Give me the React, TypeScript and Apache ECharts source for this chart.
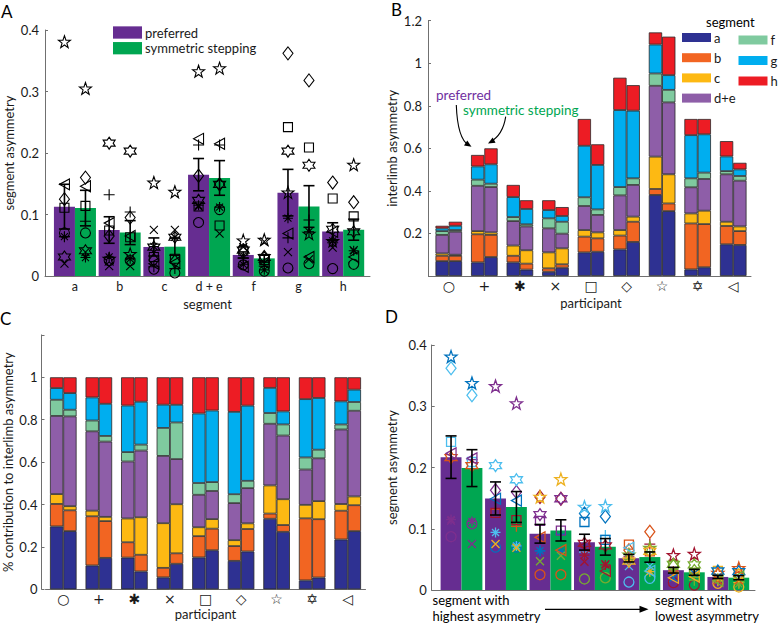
import React, { useEffect, useRef } from 'react';
import * as echarts from 'echarts';

// ---------------- data ----------------
const participants = ['○', '+', '✱', '×', '□', '◇', '☆', '✡', '◁'];
const segments = ['a', 'b', 'c', 'd+e', 'f', 'g', 'h'];
const segmentTickLabels = ['a', 'b', 'c', 'd + e', 'f', 'g', 'h'];
const conditions = ['preferred', 'symmetric stepping'];

// segment asymmetry per participant (rows, same order as participants)
// columns: a, b, c, d+e, f, g, h
const preferred = [
  [0.070, 0.025, 0.011, 0.087, 0.018, 0.013, 0.012],
  [0.064, 0.132, 0.015, 0.213, 0.029, 0.062, 0.054],
  [0.064, 0.031, 0.048, 0.115, 0.019, 0.094, 0.057],
  [0.020, 0.016, 0.075, 0.113, 0.047, 0.039, 0.046],
  [0.111, 0.074, 0.031, 0.113, 0.041, 0.242, 0.126],
  [0.125, 0.065, 0.026, 0.163, 0.039, 0.362, 0.152],
  [0.381, 0.028, 0.152, 0.333, 0.058, 0.136, 0.057],
  [0.031, 0.216, 0.047, 0.123, 0.042, 0.203, 0.076],
  [0.149, 0.086, 0.020, 0.223, 0.015, 0.069, 0.072],
];
const symmetric = [
  [0.070, 0.025, 0.005, 0.108, 0.008, 0.020, 0.019],
  [0.089, 0.104, 0.012, 0.213, 0.016, 0.091, 0.075],
  [0.030, 0.028, 0.063, 0.112, 0.010, 0.072, 0.041],
  [0.039, 0.016, 0.075, 0.069, 0.056, 0.027, 0.042],
  [0.114, 0.063, 0.028, 0.082, 0.026, 0.209, 0.097],
  [0.160, 0.095, 0.024, 0.149, 0.031, 0.318, 0.120],
  [0.305, 0.036, 0.137, 0.338, 0.059, 0.069, 0.181],
  [0.041, 0.203, 0.063, 0.149, 0.030, 0.180, 0.072],
  [0.146, 0.065, 0.022, 0.215, 0.022, 0.031, 0.031],
];

// ---------------- styles ----------------
const FONT = 'Lato, "Open Sans", sans-serif';
const conditionColors = ['#662d91', '#00a651'];
const segmentColors = ['#2e3192', '#f26522', '#fdb913', '#8e5ea8', '#7fca9f', '#00aeef', '#ed1c24'];
const segmentColorsD = ['#0072bd', '#d95319', '#edb120', '#7e2f8e', '#77ac30', '#4dbeee', '#a2142f'];
const AXIS = { color: '#707070', width: 1 };
const HALF = 0.47;

const starPath = (n: number, inner: number) => {
  let d = '';
  for (let i = 0; i < 2 * n; i++) {
    const r = i % 2 === 0 ? 1 : inner;
    const a = -Math.PI / 2 + (i * Math.PI) / n;
    d += (i === 0 ? 'M' : 'L') + (r * Math.cos(a)).toFixed(3) + ',' + (r * Math.sin(a)).toFixed(3);
  }
  return 'path://' + d + 'Z';
};
const markerSymbols = [
  'circle',
  'path://M0,-1L0,1M-1,0L1,0',
  'path://M0,-1L0,1M-1,0L1,0M-0.7,-0.7L0.7,0.7M-0.7,0.7L0.7,-0.7',
  'path://M-1,-1L1,1M-1,1L1,-1',
  'rect',
  'path://M0,-1.3L1,0L0,1.3L-1,0Z',
  starPath(5, 0.4),
  starPath(6, 0.58),
  'path://M-1,0L1,-1.1L1,1.1Z',
];
const markerSizes: any[] = [10, 11, 10, 8, 9, [10, 13], 12, 12, [10, 11]];

// ---------------- helpers ----------------
const mean = (v: number[]) => v.reduce((s, x) => s + x, 0) / v.length;
const sem = (v: number[]) => {
  const m = mean(v);
  const sd = Math.sqrt(v.reduce((s, x) => s + (x - m) ** 2, 0) / (v.length - 1));
  return sd / Math.sqrt(v.length);
};
const matrices = [preferred, symmetric];

function barSeries(name: string, color: string, axis: number, points: number[][], side: number) {
  return {
    type: 'custom', name, xAxisIndex: axis, yAxisIndex: axis, z: 1, silent: true,
    itemStyle: { color },
    data: points,
    encode: { x: 0, y: 1 },
    renderItem: (_p: any, api: any) => {
      const x = api.value(0) as number;
      const y = api.value(1) as number;
      const a = api.coord([side < 0 ? x - HALF : x, 0]);
      const b = api.coord([side < 0 ? x : x + HALF, y]);
      return { type: 'rect', shape: { x: a[0], y: b[1], width: b[0] - a[0], height: a[1] - b[1] }, style: { fill: color } };
    },
  };
}
function errSeries(axis: number, points: number[][]) {
  return {
    type: 'custom', xAxisIndex: axis, yAxisIndex: axis, z: 5, silent: true,
    data: points,
    encode: { x: 0, y: 1 },
    renderItem: (_p: any, api: any) => {
      const x = api.value(0) as number, m = api.value(1) as number, e = api.value(2) as number;
      const t = api.coord([x, m + e]);
      const b = api.coord([x, m - e]);
      const cw = 5.5;
      const st = { stroke: '#000', lineWidth: 1.6 };
      return {
        type: 'group', children: [
          { type: 'line', shape: { x1: t[0], y1: t[1], x2: b[0], y2: b[1] }, style: st },
          { type: 'line', shape: { x1: t[0] - cw, y1: t[1], x2: t[0] + cw, y2: t[1] }, style: st },
          { type: 'line', shape: { x1: b[0] - cw, y1: b[1], x2: b[0] + cw, y2: b[1] }, style: st },
        ],
      };
    },
  };
}
const arrowHead = (x: number, y: number, ang: number, len = 7, half = 3) => {
  const dx = Math.cos(ang), dy = Math.sin(ang);
  return {
    type: 'polygon', silent: true,
    shape: { points: [[x, y], [x - len * dx - half * dy, y - len * dy + half * dx], [x - len * dx + half * dy, y - len * dy - half * dx]] },
    style: { fill: '#000' },
  };
};

function buildOption() {
  const series: any[] = [];
  const xOff = [-HALF / 2, HALF / 2];

  // ---- Panel A ----
  matrices.forEach((mat, c) => {
    series.push(barSeries(conditions[c], conditionColors[c], 0,
      segments.map((_s, k) => [k + 1, mean(mat.map((r) => r[k]))]), c === 0 ? -1 : 1));
  });
  participants.forEach((p, i) => {
    const pts: number[][] = [];
    matrices.forEach((mat, c) => segments.forEach((_s, k) => pts.push([k + 1 + xOff[c], mat[i][k]])));
    series.push({
      type: 'scatter', name: 'A ' + p, xAxisIndex: 0, yAxisIndex: 0, z: 3, silent: true,
      symbol: markerSymbols[i], symbolSize: markerSizes[i], data: pts,
      itemStyle: { color: 'transparent', borderColor: '#000', borderWidth: 1.1, opacity: 1 },
    });
  });
  matrices.forEach((mat, c) => {
    series.push(errSeries(0, segments.map((_s, k) => {
      const col = mat.map((r) => r[k]);
      return [k + 1 + xOff[c], mean(col), sem(col)];
    })));
  });

  // ---- Panel B & C (stacked) ----
  [1, 2].forEach((ax) => {
    matrices.forEach((mat, c) => {
      segments.forEach((seg, s) => {
        series.push({
          type: 'bar', name: seg, xAxisIndex: ax, yAxisIndex: ax, stack: 'S' + ax + c,
          barWidth: 13.3, barGap: '0%', silent: true,
          data: mat.map((r) => (ax === 1 ? r[s] : r[s] / r.reduce((a, b) => a + b, 0))),
          itemStyle: { color: segmentColors[s], borderColor: '#2a2a2a', borderWidth: 0.8 },
        });
      });
    });
  });

  // ---- Panel D (sorted segments) ----
  const sortedD = matrices.map((mat) => mat.map((r) => r.slice().sort((a, b) => b - a)));
  const prefOrder = preferred.map((r) => r.map((_v, k) => k).sort((a, b) => r[b] - r[a]));
  matrices.forEach((_mat, c) => {
    series.push(barSeries(conditions[c], conditionColors[c], 3,
      segments.map((_s, k) => [k + 1, mean(sortedD[c].map((r) => r[k]))]), c === 0 ? -1 : 1));
  });
  participants.forEach((p, i) => {
    const pts: any[] = [];
    [0, 1].forEach((c) => segments.forEach((_s, k) => pts.push({
      value: [k + 1 + xOff[c], sortedD[c][i][k]],
      itemStyle: { borderColor: segmentColorsD[prefOrder[i][k]] },
    })));
    series.push({
      type: 'scatter', name: 'D ' + p, xAxisIndex: 3, yAxisIndex: 3, z: 3, silent: true,
      symbol: markerSymbols[i], symbolSize: markerSizes[i], data: pts,
      itemStyle: { color: 'transparent', borderWidth: 1.3, opacity: 1 },
    });
  });
  [0, 1].forEach((c) => {
    series.push(errSeries(3, segments.map((_s, k) => {
      const col = sortedD[c].map((r) => r[k]);
      return [k + 1 + xOff[c], mean(col), sem(col)];
    })));
  });

  const yBase = (grid: number, max: number, interval: number, name: string, nameGap: number, offset: number, margin: number, fmt?: any) => ({
    gridIndex: grid, type: 'value', min: 0, max, interval, offset,
    axisLine: { show: true, onZero: false, lineStyle: AXIS },
    axisTick: { show: true, inside: true, length: 3, lineStyle: AXIS },
    splitLine: { show: false },
    axisLabel: { fontSize: 13, color: '#1a1a1a', margin, formatter: fmt, fontFamily: FONT },
    name, nameLocation: 'middle', nameGap, nameTextStyle: { fontSize: 13, color: '#1a1a1a', fontFamily: FONT },
  });
  const xCat = (grid: number, nameGap: number) => ({
    gridIndex: grid, type: 'category', data: participants,
    axisLine: { show: true, onZero: false, lineStyle: AXIS },
    axisTick: { show: false }, splitLine: { show: false },
    axisLabel: { interval: 0, fontSize: 14, fontFamily: 'DejaVu Sans', color: '#1a1a1a', margin: 3 },
    name: 'participant', nameLocation: 'middle', nameGap,
    nameTextStyle: { fontSize: 13, color: '#1a1a1a', fontFamily: FONT },
  });
  const xVal = (grid: number, labels: boolean) => ({
    gridIndex: grid, type: 'value', min: 0.33, max: 7.6,
    axisLine: { show: true, onZero: false, lineStyle: AXIS },
    axisTick: { show: false }, splitLine: { show: false },
    axisLabel: labels
      ? { show: true, customValues: [1, 2, 3, 4, 5, 6, 7], formatter: (v: number) => segmentTickLabels[Math.round(v) - 1] ?? '', fontSize: 12.5, lineHeight: 13, color: '#1a1a1a', margin: 4, fontFamily: FONT }
      : { show: false },
    name: labels ? 'segment' : '', nameLocation: 'middle', nameGap: 21,
    nameTextStyle: { fontSize: 13, lineHeight: 13, color: '#1a1a1a', fontFamily: FONT },
  });

  const txt = (text: string, x: number, y: number, extra: any = {}) => ({
    type: 'text', x, y, silent: true,
    style: { text, fill: '#000', fontSize: 13, fontFamily: FONT, align: 'left', verticalAlign: 'middle', ...extra },
  });

  return {
    animation: false,
    textStyle: { fontFamily: FONT },
    grid: [
      { left: 45, top: 30, width: 325, height: 246, outerBoundsMode: 'none' },
      { left: 431, top: 20.7, width: 320, height: 255.3, outerBoundsMode: 'none' },
      { left: 45.5, top: 334.9, width: 320, height: 254.4, outerBoundsMode: 'none' },
      { left: 431.7, top: 345, width: 323.3, height: 245, outerBoundsMode: 'none' },
    ],
    xAxis: [xVal(0, true), xCat(1, 20), xCat(2, 17), xVal(3, false)],
    yAxis: [
      yBase(0, 0.4, 0.1, 'segment asymmetry', 30, 0, 6),
      yBase(1, 1.2, 0.2, 'interlimb asymmetry', 30, 3, 6, (v: number) => (v === 0 ? '' : String(v))),
      yBase(2, 1.2, 0.2, '% contribution to interlimb asymmetry', 27, 4, 4, (v: number) => (v > 1.05 ? '' : String(v))),
      yBase(3, 0.4, 0.1, 'segment asymmetry', 33, 0, 5),
    ],
    legend: [
      {
        data: conditions.map((n) => ({ name: n, icon: 'rect' })), orient: 'vertical', left: 113, top: 26,
        itemWidth: 29, itemHeight: 12.3, itemGap: 2.7, padding: 0, selectedMode: false,
        textStyle: { fontSize: 13, color: '#1a1a1a', fontFamily: FONT, padding: [0, 0, 0, -2] },
      },
      {
        data: segments.slice(0, 4).map((n) => ({ name: n, icon: 'rect' })), orient: 'vertical', left: 682, top: 31,
        itemWidth: 29, itemHeight: 9, itemGap: 7.2, padding: 0, selectedMode: false, itemStyle: { borderWidth: 0 },
        textStyle: { fontSize: 13, color: '#1a1a1a', fontFamily: FONT, padding: [0, 0, 0, -2] },
      },
      {
        data: segments.slice(4).map((n) => ({ name: n, icon: 'rect' })), orient: 'vertical', left: 738.5, top: 33.5,
        itemWidth: 29, itemHeight: 9, itemGap: 7.5, padding: 0, selectedMode: false, itemStyle: { borderWidth: 0 },
        textStyle: { fontSize: 13, color: '#1a1a1a', fontFamily: FONT, padding: [0, 0, 0, -2] },
      },
    ],
    graphic: [
      txt('A', 1, 11.5, { fontSize: 17 }),
      txt('B', 391, 9.5, { fontSize: 17 }),
      txt('C', 0, 318.5, { fontSize: 17 }),
      txt('D', 385, 316.5, { fontSize: 17 }),
      txt('segment', 706, 21.5),
      txt('preferred', 436, 95, { fill: '#7030a0', fontSize: 13.5 }),
      txt('symmetric stepping', 463, 110, { fill: '#00a651', fontSize: 13.5 }),
      {
        type: 'bezierCurve', silent: true,
        shape: { x1: 456.3, y1: 105, x2: 469, y2: 145.5, cpx1: 457.5, cpy1: 139 },
        style: { stroke: '#000', lineWidth: 1.1, fill: 'none' },
      },
      arrowHead(471.5, 146.8, Math.atan2(8.5, 13)),
      {
        type: 'bezierCurve', silent: true,
        shape: { x1: 505.7, y1: 116.7, x2: 490, y2: 142.3, cpx1: 503, cpy1: 135 },
        style: { stroke: '#000', lineWidth: 1.1, fill: 'none' },
      },
      arrowHead(488, 143.5, Math.atan2(8.3, -15)),
      txt('segment with\nhighest asymmetry', 432.5, 592, { verticalAlign: 'top', lineHeight: 16 }),
      txt('segment with\nlowest asymmetry', 655, 592, { verticalAlign: 'top', lineHeight: 16 }),
      {
        type: 'line', silent: true,
        shape: { x1: 545, y1: 609.3, x2: 642, y2: 609.3 },
        style: { stroke: '#000', lineWidth: 1.3 },
      },
      arrowHead(648.5, 609.3, 0, 9, 3.5),
    ],
    series,
  };
}

export default function App() {
  const ref = useRef<HTMLDivElement>(null);
  useEffect(() => {
    if (!ref.current) return;
    const chart = echarts.init(ref.current, null, { renderer: 'svg' });
    chart.setOption(buildOption() as any);
    return () => chart.dispose();
  }, []);
  return <div ref={ref} style={{ position: 'absolute', left: 0, top: 0, width: 778, height: 624, background: '#fff' }} />;
}
